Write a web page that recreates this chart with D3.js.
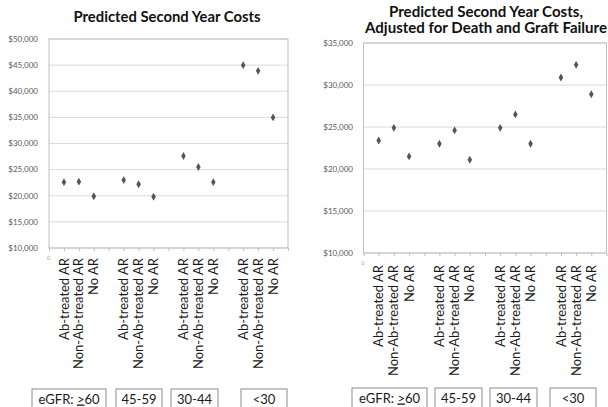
<!DOCTYPE html>
<html>
<head>
<meta charset="utf-8">
<script src="https://cdn.jsdelivr.net/npm/d3@7"></script>
<style>
  body { margin: 0; background: #fff; }
  svg { display: block; font-family: Lato, "Open Sans", sans-serif; }
</style>
</head>
<body>
<div id="chart"></div>
<script>
// two excel-style scatter charts, side by side

const width = 608;
const height = 407;

/////////////// Data ////////////////
const arTypes = ["Ab-treated AR", "Non-Ab-treated AR", "No AR"];
const egfrGroups = ["eGFR: >60", "45-59", "30-44", "<30"];

// one value per group x type, in group order
const costs = [22600, 22700, 19900, 23000, 22200, 19800, 27600, 25500, 22600, 45000, 43900, 35000];
const adjustedCosts = [23400, 24900, 21500, 23000, 24600, 21100, 24900, 26500, 23000, 30900, 32400, 28900];

const costTicks = [10000, 15000, 20000, 25000, 30000, 35000, 40000, 45000, 50000];
const adjustedTicks = [10000, 15000, 20000, 25000, 30000, 35000];

const titleCosts = ["Predicted Second Year Costs"];
const titleAdjusted = ["Predicted Second Year Costs,", "Adjusted for Death and Graft Failure"];

const svg = d3.select("#chart")
  .append("svg")
  .attr("width", width)
  .attr("height", height);

const fmt = d3.format("$,");

const drawChart = (opt) => {
  const g = svg.append("g");

  // points sit at 1,2,3 | 5,6,7 | 9,10,11 | 13,14,15 on a 0..16 axis
  const points = opt.values.map((v, i) => ({
    group: Math.floor(i / arTypes.length),
    type: arTypes[i % arTypes.length],
    pos: Math.floor(i / arTypes.length) * 4 + (i % arTypes.length) + 1,
    value: v
  }));

  const x = d3.scaleLinear()
    .domain([0, 16])
    .range([opt.left, opt.right]);

  const y = d3.scaleLinear()
    .domain([10000, d3.max(opt.ticks)])
    .range([opt.bottom, opt.top]);

  // title
  g.selectAll(".title")
    .data(opt.title)
    .join("text")
      .attr("class", "title")
      .attr("x", opt.titleX)
      .attr("y", (d, i) => opt.titleY + i * 16)
      .attr("text-anchor", "middle")
      .attr("font-size", 14.5)
      .attr("font-weight", "bold")
      .attr("fill", "#111")
      .attr("textLength", (d, i) => opt.titleWidth[i])
      .attr("lengthAdjust", "spacingAndGlyphs")
      .text(d => d);

  // gridlines
  g.selectAll(".grid")
    .data(opt.ticks)
    .join("line")
      .attr("class", "grid")
      .attr("x1", opt.left)
      .attr("x2", opt.right)
      .attr("y1", d => y(d))
      .attr("y2", d => y(d))
      .attr("stroke", "#d9d9d9")
      .attr("stroke-width", 1);

  // plot border
  g.append("rect")
    .attr("x", opt.left)
    .attr("y", y(d3.max(opt.ticks)))
    .attr("width", opt.right - opt.left)
    .attr("height", opt.bottom - y(d3.max(opt.ticks)))
    .attr("fill", "none")
    .attr("stroke", "#bfbfbf")
    .attr("stroke-width", 1);

  // y axis labels
  g.selectAll(".ylab")
    .data(opt.ticks)
    .join("text")
      .attr("class", "ylab")
      .attr("x", opt.left - opt.labelGap)
      .attr("y", d => y(d))
      .attr("dy", "0.35em")
      .attr("text-anchor", "end")
      .attr("font-size", 8)
      .attr("fill", "#595959")
      .text(d => fmt(d));

  // x tick marks
  const xAxis = d3.axisBottom(x)
    .tickValues(d3.range(0, 17))
    .tickSize(3)
    .tickFormat("");
  g.append("g")
    .attr("transform", `translate(0,${opt.bottom})`)
    .call(xAxis)
    .call(a => a.select(".domain").remove())
    .call(a => a.selectAll("line").attr("stroke", "#bfbfbf"));

  // end labels, mostly clipped in the original
  g.selectAll(".endlab")
    .data([0])
    .join("text")
      .attr("class", "endlab")
      .attr("x", d => x(d) - 2)
      .attr("y", opt.bottom + 12)
      .attr("font-size", 5)
      .attr("fill", "#999")
      .text(d => d);

  // rotated category labels
  g.selectAll(".xlab")
    .data(points)
    .join("text")
      .attr("class", "xlab")
      .attr("transform", d => `translate(${x(d.pos)},${opt.xLabelTop}) rotate(-90)`)
      .attr("dy", "0.35em")
      .attr("text-anchor", "end")
      .attr("font-size", 13)
      .attr("fill", "#1a1a1a")
      .text(d => d.type);

  // markers
  g.selectAll(".pt")
    .data(points)
    .join("path")
      .attr("class", "pt")
      .attr("transform", d => `translate(${x(d.pos)},${y(d.value)})`)
      .attr("d", d3.symbol(d3.symbolDiamond, 18))
      .attr("fill", "#555");

  // group boxes
  const boxes = g.selectAll(".box")
    .data(egfrGroups)
    .join("g")
      .attr("class", "box");

  boxes.append("rect")
    .attr("x", (d, i) => opt.boxes[i][0])
    .attr("y", opt.boxTop)
    .attr("width", (d, i) => opt.boxes[i][1] - opt.boxes[i][0])
    .attr("height", 30)
    .attr("fill", "#fff")
    .attr("stroke", "#8c8c8c")
    .attr("stroke-width", 1);

  boxes.append("text")
    .attr("x", (d, i) => (opt.boxes[i][0] + opt.boxes[i][1]) / 2)
    .attr("y", opt.boxTop + 14.5)
    .attr("text-anchor", "middle")
    .attr("font-size", 13)
    .attr("fill", "#1a1a1a")
    .each(function(d) {
      const t = d3.select(this);
      if (d.startsWith("eGFR")) {
        t.append("tspan").text("eGFR: ");
        t.append("tspan").attr("text-decoration", "underline").text(">");
        t.append("tspan").text("60");
      } else {
        t.text(d);
      }
    });
};

drawChart({
  values: costs,
  ticks: costTicks,
  title: titleCosts,
  titleX: 167,
  titleY: 22,
  titleWidth: [187],
  left: 49, right: 288, top: 39, bottom: 248,
  labelGap: 11,
  xLabelTop: 258,
  boxTop: 389,
  boxes: [[32, 106], [116, 162], [171, 218], [241, 287]]
});

drawChart({
  values: adjustedCosts,
  ticks: adjustedTicks,
  title: titleAdjusted,
  titleX: 486,
  titleY: 17,
  titleWidth: [194, 242],
  left: 363.5, right: 606.5, top: 43, bottom: 253,
  labelGap: 10.5,
  xLabelTop: 265,
  boxTop: 388,
  boxes: [[352, 427], [435, 482], [490, 537], [550, 596]]
});
</script>
</body>
</html>
